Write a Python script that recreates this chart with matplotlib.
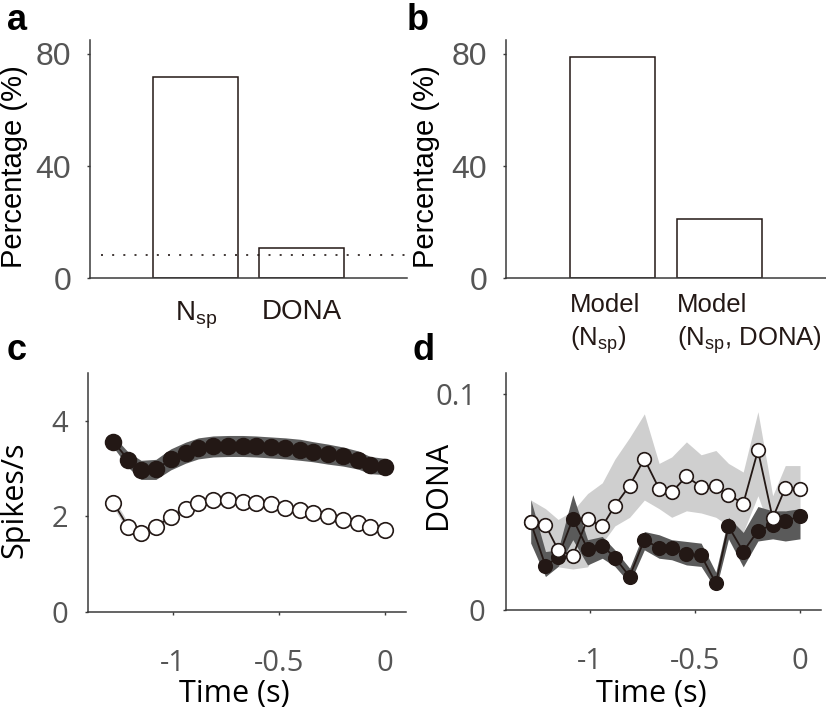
import matplotlib
matplotlib.use('Agg')
import matplotlib.pyplot as plt
import matplotlib.transforms as mtransforms
import numpy as np

# ---- data ----
# panel a
a_labels = ['N$_\\mathregular{sp}$', 'DONA']
a_values = [71.7, 10.6]
a_chance = 8.3
# panel b
b_labels = ['Model\n(N$_\\mathregular{sp}$)', 'Model\n(N$_\\mathregular{sp}$, DONA)']
b_values = [78.8, 21.2]

# time bins (s) for panels c and d
time = [-1.28, -1.21, -1.15, -1.08, -1.01, -0.94, -0.88, -0.81, -0.74, -0.67,
        -0.61, -0.54, -0.47, -0.40, -0.34, -0.27, -0.20, -0.13, -0.07, 0.0]

# panel c: firing rate (spikes/s)
c_black = [3.56, 3.18, 2.97, 2.98, 3.19, 3.33, 3.42, 3.46, 3.47, 3.47,
           3.46, 3.44, 3.42, 3.39, 3.35, 3.30, 3.25, 3.18, 3.07, 3.04]
c_black_sem = [0.12, 0.16, 0.20, 0.21, 0.22, 0.22, 0.22, 0.22, 0.22, 0.22,
               0.22, 0.22, 0.22, 0.22, 0.21, 0.21, 0.20, 0.19, 0.18, 0.17]
c_white = [2.28, 1.77, 1.64, 1.78, 1.99, 2.16, 2.28, 2.34, 2.34, 2.30,
           2.27, 2.25, 2.18, 2.13, 2.06, 2.00, 1.92, 1.86, 1.78, 1.72]
c_white_sem = [0.10, 0.09, 0.08, 0.08, 0.08, 0.08, 0.09, 0.09, 0.09, 0.09,
               0.08, 0.08, 0.08, 0.08, 0.08, 0.08, 0.08, 0.08, 0.08, 0.08]

# panel d: DONA
d_black = [0.0406, 0.0205, 0.0245, 0.0423, 0.0284, 0.0299, 0.0243, 0.0155, 0.0326, 0.0287,
           0.0287, 0.0259, 0.0253, 0.0124, 0.0388, 0.0271, 0.0367, 0.0395, 0.0414, 0.0434]
d_black_hi = [0.0512, 0.0271, 0.0279, 0.0535, 0.0326, 0.0341, 0.0279, 0.0194, 0.0364, 0.0349,
              0.0326, 0.0318, 0.0310, 0.0175, 0.0430, 0.0360, 0.0480, 0.0460, 0.0460, 0.0470]
d_black_lo = [0.0310, 0.0155, 0.0202, 0.0326, 0.0209, 0.0240, 0.0202, 0.0124, 0.0279, 0.0240,
              0.0233, 0.0209, 0.0202, 0.0095, 0.0330, 0.0200, 0.0320, 0.0330, 0.0320, 0.0330]
d_white = [0.0406, 0.0394, 0.0279, 0.0251, 0.0422, 0.0388, 0.0484, 0.0577, 0.0701, 0.0563,
           0.0546, 0.0620, 0.0571, 0.0574, 0.0535, 0.0493, 0.0740, 0.0426, 0.0566, 0.0561]
d_white_hi = [0.0510, 0.0470, 0.0420, 0.0460, 0.0540, 0.0590, 0.0700, 0.0800, 0.0910, 0.0680,
              0.0710, 0.0780, 0.0720, 0.0740, 0.0680, 0.0640, 0.0920, 0.0530, 0.0670, 0.0670]
d_white_lo = [0.0310, 0.0250, 0.0200, 0.0190, 0.0200, 0.0310, 0.0390, 0.0430, 0.0510, 0.0470,
              0.0430, 0.0460, 0.0450, 0.0430, 0.0390, 0.0360, 0.0530, 0.0340, 0.0460, 0.0460]

# ---- style ----
ink = '#231815'
spine_col = '#3a3a3a'
tick_col = '#555555'
sans = 'Open Sans'
arial = 'Liberation Sans'
plt.rcParams['font.family'] = [sans, 'DejaVu Sans']
plt.rcParams['mathtext.fontset'] = 'custom'

fig = plt.figure(figsize=(8.26, 7.13), dpi=100)


def style_axes(ax, family, size):
    for s in ['top', 'right']:
        ax.spines[s].set_visible(False)
    for s in ['left', 'bottom']:
        ax.spines[s].set_color(spine_col)
        ax.spines[s].set_linewidth(1.1)
    ax.tick_params(colors=spine_col, labelcolor=tick_col, labelsize=size,
                   length=2.5, width=1.0, direction='out')
    for lab in ax.get_yticklabels() + ax.get_xticklabels():
        lab.set_family(family)


def bar_panel(ax, values, ylabel_x):
    x = np.arange(1, len(values) + 1)
    ax.bar(x, values, width=0.8, facecolor='white', edgecolor=ink, linewidth=1.1)
    ax.set_xlim(0, 3)
    ax.set_ylim(0, 85)
    ax.set_yticks([0, 40, 80])
    style_axes(ax, arial, 23)
    ax.tick_params(axis='y', pad=11)
    ax.set_ylabel('Percentage (%)', family=arial, fontsize=21, color='black')
    ax.yaxis.set_label_coords(ylabel_x, 0.466)
    return x


# panel a
ax_a = fig.add_axes([0.109, 0.610, 0.384, 0.334])
xa = bar_panel(ax_a, a_values, -0.196)
ax_a.hlines(a_chance, 0.1, 3.0, colors=ink, linestyles=(0, (1.2, 5.5)), linewidth=1.2)
ax_a.set_xticks(xa)
ax_a.set_xticklabels(a_labels, family=arial, fontsize=20, color=ink)
ax_a.tick_params(axis='x', length=0, pad=15)

# panel b
ax_b = fig.add_axes([0.6126, 0.610, 0.3874, 0.334])
xb = bar_panel(ax_b, b_values, -0.206)
ax_b.set_xticks(xb - 0.4)
ax_b.set_xticklabels(b_labels, family=arial, fontsize=18.5, color=ink,
                     ha='left', linespacing=1.3)
ax_b.tick_params(axis='x', length=0, pad=11)


def time_panel(ax):
    ax.set_xlim(-1.4, 0.1)
    ax.set_xticks([-1, -0.5, 0])
    ax.set_xticklabels(['-1', '-0.5', '0'])
    style_axes(ax, sans, 21)
    ax.tick_params(axis='x', pad=24)
    ax.set_xlabel('Time (s)', family=sans, fontsize=22, color='black')


# panel c
ax_c = fig.add_axes([0.1065, 0.142, 0.3855, 0.335])
cb = np.array(c_black)
cbs = np.array(c_black_sem)
cw = np.array(c_white)
cws = np.array(c_white_sem)
ax_c.fill_between(time, cb - cbs, cb + cbs, color='#5f5f5f', lw=0, zorder=1)
ax_c.fill_between(time, cw - cws, cw + cws, color='#d0d0d0', lw=0, zorder=1)
ax_c.plot(time, c_black, '-o', color=ink, lw=1.3, ms=11.5, mfc=ink, mec=ink,
          mew=1.1, zorder=3)
ax_c.plot(time, c_white, '-o', color=ink, lw=1.3, ms=11.2, mfc='white', mec=ink,
          mew=1.2, zorder=3)
ax_c.set_ylim(0, 5)
ax_c.set_yticks([0, 2, 4])
time_panel(ax_c)
ax_c.tick_params(axis='y', pad=12)
ax_c.set_ylabel('Spikes/s', family=sans, fontsize=22, color='black')
ax_c.yaxis.set_label_coords(-0.183, 0.469)
ax_c.xaxis.set_label_coords(0.46, -0.28)

# panel d
ax_d = fig.add_axes([0.612, 0.1445, 0.382, 0.3325])
ax_d.fill_between(time, d_white_lo, d_white_hi, color='#cfcfcf', lw=0, zorder=1)
ax_d.fill_between(time, d_black_lo, d_black_hi, color='#5a5a5a', lw=0, zorder=2)
ax_d.plot(time, d_black, '-o', color=ink, lw=1.3, ms=9.8, mfc=ink, mec=ink,
          mew=1.1, zorder=3)
ax_d.plot(time, d_white, '-o', color=ink, lw=1.3, ms=9.8, mfc='white', mec=ink,
          mew=1.2, zorder=4)
ax_d.set_ylim(0, 0.11)
ax_d.set_yticks([0, 0.1])
ax_d.set_yticklabels(['0', '0.1'])
time_panel(ax_d)
ax_d.tick_params(axis='y', pad=12)
ax_d.set_ylabel('DONA', family=sans, fontsize=22, color='black')
ax_d.yaxis.set_label_coords(-0.168, 0.527)
ax_d.xaxis.set_label_coords(0.462, -0.29)
# the "0.1" label sits a little further left than "0" in the original
lab01 = ax_d.yaxis.get_major_ticks()[1].label1
lab01.set_transform(lab01.get_transform() +
                    mtransforms.ScaledTranslation(-9 / 100, 0, fig.dpi_scale_trans))

# panel letters
for x, y, s in [(0.008, 0.958, 'a'), (0.492, 0.958, 'b'),
                (0.008, 0.495, 'c'), (0.500, 0.495, 'd')]:
    fig.text(x, y, s, family=arial, fontsize=26, fontweight='bold',
             va='baseline', ha='left')

fig.savefig('out.png', dpi=100)
